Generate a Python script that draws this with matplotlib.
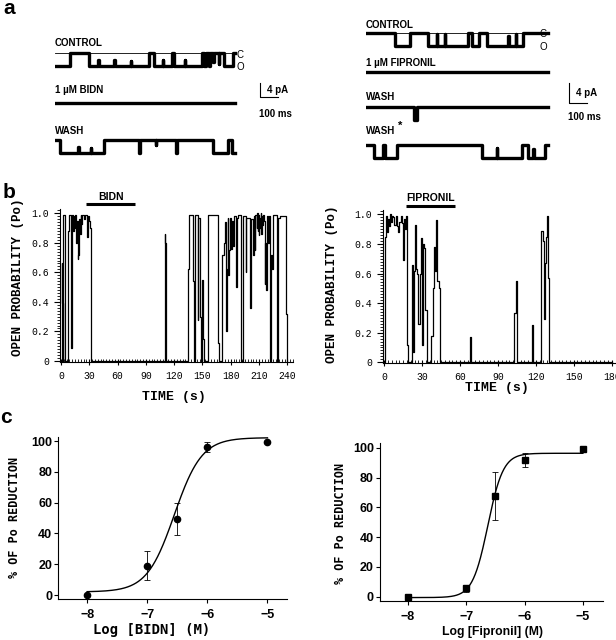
import numpy as np
import matplotlib
matplotlib.use("Agg")
import matplotlib.pyplot as plt
from matplotlib.ticker import MultipleLocator, FuncFormatter

plt.rcParams['font.family'] = 'Liberation Sans'

# ---- a: single channel records, time in ms, state 0 = closed, 1 = open
ctl_l_t = [0, 83, 191, 240, 242, 330, 332, 420, 422, 522, 550, 600, 602, 652, 663, 720, 722,
           815, 828, 840, 855, 862, 880, 883, 910, 912, 940, 990, 1000]
ctl_l_s = [1, 0, 1, 0.5, 1, 0.5, 1, 0.6, 1, 0, 1, 0.5, 1, 0, 1, 0.5, 1,
           0, 1, 0, 1, 0, 0.7, 0, 0.8, 0, 1, 0, 0]
bidn_tr_t = [0, 1000]
bidn_tr_s = [0, 0]
wash_l_t = [0, 27, 130, 132, 200, 202, 272, 466, 472, 560, 562, 670, 676, 878, 963, 981, 1000]
wash_l_s = [0, 1, 0.5, 1, 0.6, 1, 0, 1, 0, 0.4, 0, 1, 0, 1, 0, 1, 1]

ctl_r_t = [0, 161, 244, 346, 392, 394, 438, 440, 568, 587, 630, 670, 790, 792, 832, 834, 870, 1010]
ctl_r_s = [0, 1, 0, 1, 0.1, 1, 0.1, 1, 0, 1, 0, 1, 0.2, 1, 0.1, 1, 0, 0]
fip_tr_t = [0, 1010]
fip_tr_s = [0, 0]
wash_r_t = [0, 265, 282, 1010]
wash_r_s = [0, 1, 0, 0]
wash2_r_t = [0, 44, 96, 104, 170, 643, 725, 727, 865, 902, 930, 932, 994, 1010]
wash2_r_s = [0, 1, 0, 1, 0, 1, 0.2, 1, 0, 1, 0.3, 1, 0, 0]

# ---- b: open probability vs time (s)
bidn_po_t = [0, 0.6, 1.4, 2.2, 2.6, 3.8,
             7.2, 8.4, 10.4, 11.8, 12.8, 13.6, 14.4, 15.2, 16.0, 16.8, 17.6, 18.4, 19.2, 20.0,
             20.8, 21.6, 22.4, 24.0, 25.6, 27.2, 28.0, 28.8, 30.0, 31.0, 31.8,
             109.8, 110.8, 111.8,
             134.4, 135.8, 140.0, 141.0, 141.8, 142.6, 145.0, 145.6, 147.8, 148.6, 150.0, 151.0, 152.0,
             155.6, 156.4, 166.8, 167.8,
             170.4, 171.2, 172.4, 173.6, 175.0, 175.8, 176.6, 177.4, 178.2, 179.0, 180.4, 181.4,
             182.4, 183.2, 185.8, 186.6, 188.0, 190.8,
             192.6, 193.4, 195.8, 196.6, 200.6, 201.4, 203.6, 204.4, 205.4, 206.2, 207.4, 208.0,
             208.6, 209.2, 209.8, 210.4, 211.0, 211.6, 212.2, 212.8, 213.4, 214.0, 215.0, 216.0,
             216.8, 217.6, 218.6, 219.6, 220.6, 221.8,
             223.0, 223.8, 224.6, 229.4,
             230.6, 232.0, 238.6, 239.4, 240.0]
bidn_po = [0, 0.66, 0.39, 0, 0.99, 0,
           0.88, 0.99, 0.09, 0.99, 0.88, 0.98, 0.90, 0.99, 0.80, 0.95, 0.69, 0.72, 0.96, 0.86,
           0.99, 0.93, 0.99, 0.96, 0.99, 0.97, 0.84, 0.98, 0.95, 0.90, 0,
           0.86, 0.80, 0,
           0.62, 0.99, 0.54, 0, 0.25, 0.99, 0.28, 0.97, 0.30, 0, 0.55, 0.15, 0,
           0.55, 0.99, 0.12, 0,
           0.12, 0.72, 0.80, 0.94, 0.20, 0.62, 0.97, 0.58, 0.75, 0.97, 0.76, 0.95,
           0.78, 0.98, 0.50, 0.97, 0.99, 0,
           0.70, 0.98, 0.60, 0.97, 0.36, 0.96, 0.72, 0.98, 0.75, 0.99, 0.90, 1.0,
           0.88, 0.99, 0.85, 0.97, 0.90, 1.0, 0.86, 0.98, 0.92, 0.99, 0.95, 0.52,
           0.80, 0.48, 0.98, 0.80, 0.98, 0,
           0.72, 0.62, 0.99, 0,
           0.97, 0.98, 0.32, 0, 0]

fip_po_t = [0, 0.2, 1.0, 1.8, 2.6, 3.4, 4.2, 5.0, 5.8, 7.0, 8.0, 9.0, 10.0, 11.0, 12.0, 13.0,
            14.0, 15.0, 15.8, 16.6, 17.4, 17.8, 19.0,
            21.6, 22.2, 22.8, 23.6, 24.6, 25.4, 26.2, 27.0, 28.2, 29.4, 30.0, 30.8, 31.6, 32.6, 34.0,
            37.4, 38.2, 39.0, 40.0, 41.0, 41.8, 43.0, 44.0,
            67.6, 68.6,
            103.0, 104.0, 105.0,
            116.8, 117.8,
            124.4, 125.4, 126.2, 127.0, 127.8, 128.6, 129.6, 130.4, 180.0]
fip_po = [0, 0.85, 0.99, 0.88, 0.97, 0.92, 1.0, 0.95, 0.99, 0.98, 0.93, 0.99, 0.92, 0.88, 0.95, 0.99,
          0.94, 0.69, 0.97, 0.90, 0.99, 0.12, 0,
          0.60, 0.66, 0.07, 0.62, 0.93, 0.63, 0.60, 0.26, 0.60, 0.84, 0.12, 0.80, 0.77, 0.35, 0,
          0.18, 0.50, 0.78, 0.62, 0.96, 0.55, 0.50, 0,
          0.17, 0,
          0.33, 0.55, 0,
          0.25, 0,
          0.89, 0.82, 0.29, 0.67, 0.85, 0.99, 0.57, 0, 0]

bidn_bar = [27, 79]
fip_bar = [17, 56]

# ---- c: concentration response
logc = [-8, -7, -6.5, -6, -5]
bidn_red = [0, 19, 49.5, 96.5, 99.5]
bidn_err = [0, 9.5, 10.5, 3.3, 0]
fip_red = [-0.5, 5.5, 67.5, 91.8, 99.5]
fip_err = [0, 2.5, 16, 5, 0]
# bottom, top, logIC50, hill slope
bidn_fit = [2.0, 102.3, -6.55, 1.9]
fip_fit = [-0.6, 96.3, -6.63, 3.3]

W, H = 616, 640
fig = plt.figure(figsize=(W / 100, H / 100), dpi=100)


def px_axes(x0, y0, x1, y1):
    # box given in pixels from the top left corner
    return fig.add_axes([x0 / W, 1 - y1 / H, (x1 - x0) / W, (y1 - y0) / H])


def ftext(x, y, s, **kw):
    fig.text(x / W, 1 - y / H, s, **kw)


def hill(x, p):
    b, t, c, n = p
    return b + (t - b) / (1 + 10 ** ((c - x) * n))


lab = dict(fontsize=7, fontweight='bold', va='center')

# ---------------- a
amp_l = 3.8
axl = px_axes(55, 30, 300, 165)
axl.set_xlim(0, 245 / 0.18)
axl.set_ylim(-135 / 3.5, 0)
axl.axis('off')
for t, s, off in [(ctl_l_t, ctl_l_s, -6.6), (bidn_tr_t, bidn_tr_s, -20.9), (wash_l_t, wash_l_s, -31.4)]:
    axl.step(t, off - amp_l * np.array(s), where='post', color='k', lw=2.4)
axl.plot([0, ctl_l_t[-1]], [-6.6, -6.6], color='k', lw=0.6)
axl.plot([1139, 1139, 1239], [-15.1, -19.1, -19.1], color='k', lw=0.8)

ftext(55, 43, 'CONTROL', **lab)
ftext(55, 90, '1 µM BIDN', **lab)
ftext(55, 131, 'WASH', **lab)
ftext(237, 55, 'C', fontsize=7, va='center')
ftext(237, 67, 'O', fontsize=7, va='center')
ftext(267, 90, '4 pA', **lab)
ftext(259, 114, '100 ms', **lab)

amp_r = 2.6
axr = px_axes(366, 15, 616, 165)
axr.set_xlim(0, 250 / 0.18)
axr.set_ylim(-30, 0)
axr.axis('off')
for t, s, off in [(ctl_r_t, ctl_r_s, -3.6), (fip_tr_t, fip_tr_s, -11.4),
                  (wash_r_t, wash_r_s, -18.4), (wash2_r_t, wash2_r_s, -26.0)]:
    axr.step(t, off - amp_r * np.array(s), where='post', color='k', lw=2.4)
axr.plot([0, ctl_r_t[-1]], [-3.6, -3.6], color='k', lw=0.6)
axr.plot([1128, 1128, 1228], [-13.6, -17.6, -17.6], color='k', lw=0.8)

ftext(366, 25, 'CONTROL', **lab)
ftext(366, 63, '1 µM FIPRONIL', **lab)
ftext(366, 97, 'WASH', **lab)
ftext(366, 131, 'WASH', **lab)
ftext(398, 126, '*', fontsize=8, fontweight='bold', va='center')
ftext(539, 34, 'C', fontsize=7, va='center')
ftext(539, 47.5, 'O', fontsize=7, va='center')
ftext(576, 93, '4 pA', **lab)
ftext(568, 117, '100 ms', **lab)

ftext(3, 14, 'a', fontsize=15, fontweight='bold')
ftext(3, 198, 'b', fontsize=15, fontweight='bold')
ftext(0, 423, 'c', fontsize=15, fontweight='bold')


# ---------------- b
def style_b(ax, xmax):
    for s in ['top', 'right']:
        ax.spines[s].set_visible(False)
    ax.set_xticks(np.arange(0, xmax + 1, 30))
    ax.set_yticks(np.arange(0, 1.01, 0.2))
    ax.xaxis.set_minor_locator(MultipleLocator(3))
    ax.yaxis.set_minor_locator(MultipleLocator(0.02))
    ax.yaxis.set_major_formatter(FuncFormatter(lambda v, p: '0' if abs(v) < 1e-9 else '%.1f' % v))
    ax.tick_params(axis='x', which='major', direction='inout', length=5, width=0.8,
                   labelsize=7, pad=4, labelfontfamily='Liberation Mono')
    ax.tick_params(axis='x', which='minor', direction='in', length=2.5, width=0.6)
    ax.tick_params(axis='y', which='major', direction='out', length=4, width=0.8,
                   labelsize=7, pad=4, labelfontfamily='Liberation Mono')
    ax.tick_params(axis='y', which='minor', direction='out', length=2, width=0.6)
    ax.set_ylim(-0.005, 1.03)


axb1 = px_axes(60, 208.8, 293, 361.7)
axb1.step(bidn_po_t, bidn_po, where='post', color='k', lw=0.9)
axb1.set_xlim(-1, 246)
style_b(axb1, 240)
axb1.plot(bidn_bar, [1.06, 1.06], color='k', lw=2.2, clip_on=False, solid_capstyle='butt')
axb1.text(np.mean(bidn_bar), 1.11, 'BIDN', ha='center', va='center', fontsize=7.5, fontweight='bold')

axb2 = px_axes(383, 209.9, 615, 363)
axb2.step(fip_po_t, fip_po, where='post', color='k', lw=0.9)
axb2.set_xlim(-1, 182.7)
style_b(axb2, 180)
axb2.plot(fip_bar, [1.056, 1.056], color='k', lw=2.2, clip_on=False, solid_capstyle='butt')
axb2.text(np.mean(fip_bar), 1.11, 'FIPRONIL', ha='center', va='center', fontsize=7.5, fontweight='bold')

blab = dict(family='Liberation Mono', fontweight='bold', ha='center', va='center')
ftext(18, 277, 'OPEN PROBABILITY (Po)', rotation=90, fontsize=9, **blab)
ftext(332, 284, 'OPEN PROBABILITY (Po)', rotation=90, fontsize=9, **blab)
ftext(174, 397, 'TIME (s)', fontsize=9.5, **blab)
ftext(497, 388, 'TIME (s)', fontsize=9.5, **blab)


# ---------------- c
def style_c(ax):
    for s in ['top', 'right']:
        ax.spines[s].set_visible(False)
    ax.set_xticks(logc[:2] + logc[3:])
    ax.set_yticks(np.arange(0, 101, 20))
    ax.tick_params(axis='both', direction='out', length=3, width=0.8, labelsize=9)
    ax.tick_params(axis='y', pad=1.5)
    ax.tick_params(axis='x', pad=4)
    ax.xaxis.set_major_formatter(FuncFormatter(lambda v, p: '\u2212%d' % abs(v)))
    for t in ax.get_xticklabels() + ax.get_yticklabels():
        t.set_fontweight('bold')


xc = np.linspace(-8, -5, 300)

axc1 = px_axes(58.3, 436.6, 286.7, 599)
axc1.plot(xc, hill(xc, bidn_fit), color='k', lw=1.0)
axc1.errorbar(logc, bidn_red, yerr=bidn_err, fmt='o', color='k', ms=4.5,
              elinewidth=0.6, capsize=2, capthick=0.6)
axc1.set_xlim(-8.48, -4.68)
axc1.set_ylim(-2.6, 103)
style_c(axc1)

axc2 = px_axes(380, 443.3, 602.7, 601)
axc2.plot(xc, hill(xc, fip_fit), color='k', lw=1.0)
axc2.errorbar(logc, fip_red, yerr=fip_err, fmt='s', color='k', ms=4,
              elinewidth=0.6, capsize=2, capthick=0.6)
axc2.set_xlim(-8.48, -4.66)
axc2.set_ylim(-2.9, 103)
style_c(axc2)

clab = dict(family='DejaVu Sans Mono', fontweight='bold', ha='center', va='center')
ftext(15, 517, '% OF Po REDUCTION', rotation=90, fontsize=8.5, **clab)
ftext(340, 523, '% OF Po REDUCTION', rotation=90, fontsize=8.5, **clab)
ftext(152, 630, 'Log [BIDN] (M)', fontsize=10, **clab)
ftext(493, 632, 'Log [Fipronil] (M)', fontsize=8.8, fontweight='bold', ha='center', va='center')

fig.savefig('out.png', dpi=100)
